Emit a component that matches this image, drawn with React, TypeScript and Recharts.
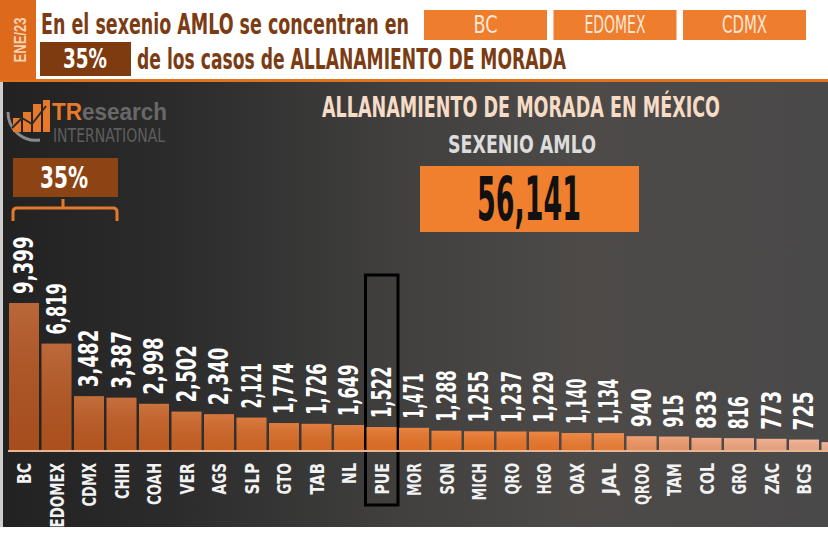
import { BarChart, Bar, XAxis, YAxis, Cell, LabelList, ReferenceArea } from "recharts";

// data (the last state is cut off at the right edge)
const states = [
  "BC", "EDOMEX", "CDMX", "CHIH", "COAH", "VER", "AGS", "SLP", "GTO", "TAB", "NL", "PUE", "MOR",
  "SON", "MICH", "QRO", "HGO", "OAX", "JAL", "QROO", "TAM", "COL", "GRO", "ZAC", "BCS", "NAY",
];
const cases = [
  9399, 6819, 3482, 3387, 2998, 2502, 2340, 2121, 1774, 1726, 1649, 1522, 1471,
  1288, 1255, 1237, 1229, 1140, 1134, 940, 915, 833, 816, 773, 725, 560,
];
const highlighted = "PUE";
const topStates = ["BC", "EDOMEX", "CDMX"];
const share = "35%";
const total = "56,141";
const period = "ENE/23";

const barColors = [
  "#b0521f", "#b45520", "#bb5921", "#bf5b22", "#c55f23", "#ca6224", "#cf6525", "#d46825", "#d96b25",
  "#dc6c25", "#df6e25", "#e27025", "#e67327", "#e87427", "#e97528", "#ea7629", "#eb772b", "#eb7b30",
  "#ec8138", "#ee9462", "#ef9a6c", "#efa077", "#f0a47e", "#f0a886", "#f1ac8c", "#f1b092",
];

const data = states.map((state, i) => ({ state, total: cases[i] }));
const lastIdx = states.length - 1;

const narrow = '"Liberation Sans Narrow", "DejaVu Sans Condensed", "Roboto Condensed", sans-serif';
const brown = "#7b3c14";
const orange = "#ee7d2e";

// rough width of a condensed display face, used to squeeze the fallback font
const digitLen = (s: string) =>
  s.split("").reduce((w, c) => w + (c === "1" ? 7 : c === "," ? 5.5 : 13), 0);
const letterLen = (s: string) =>
  s.split("").reduce((w, c) => w + (c === "I" ? 4.5 : c === "M" ? 12 : 10.5), 0);

const ValueLabel = (props: any) => {
  const { x, y, width, value, index } = props;
  if (value == null || index === lastIdx) return null; // off the picture
  const cx = x + width / 2;
  const cy = y - 9;
  const txt = Number(value).toLocaleString("en-US");
  return (
    <text
      x={cx}
      y={cy}
      transform={`rotate(-90, ${cx}, ${cy})`}
      textAnchor="start"
      dominantBaseline="central"
      fill="#ffffff"
      fontFamily={narrow}
      fontWeight="bold"
      fontSize={27}
      textLength={digitLen(txt)}
      lengthAdjust="spacingAndGlyphs"
    >
      {txt}
    </text>
  );
};

const StateTick = (props: any) => {
  const { x, y, payload } = props;
  if (payload.index === lastIdx) return null;
  const ty = y + 12;
  return (
    <text
      x={x}
      y={ty}
      transform={`rotate(-90, ${x}, ${ty})`}
      textAnchor="end"
      dominantBaseline="central"
      fill="#f2f2f2"
      fontFamily={narrow}
      fontWeight="bold"
      fontSize={20}
      textLength={letterLen(payload.value)}
      lengthAdjust="spacingAndGlyphs"
    >
      {payload.value}
    </text>
  );
};

const ShadedBar = (props: any) => {
  const { x, y, width, height, fill } = props;
  if (!height || height <= 0) return null;
  return (
    <g>
      <rect x={x} y={y} width={width} height={height} fill={fill} />
      <rect x={x} y={y} width={width} height={height} fill="url(#barShade)" />
    </g>
  );
};

const boxTextLen = [24, 61, 45];

export default function App() {
  return (
    <div style={{ position: "absolute", left: 0, top: 0, width: 828, height: 533, overflow: "hidden", background: "#ffffff" }}>
      {/* dark panel */}
      <div
        style={{
          position: "absolute",
          left: 0,
          top: 82,
          width: 828,
          height: 445,
          boxSizing: "border-box",
          borderLeft: "3px solid #cfcfcf",
          background: "linear-gradient(90deg, #222222 0%, #2b2b2b 20%, #41403f 48%, #4d4a48 70%, #4a4949 100%)",
        }}
      />
      <div style={{ position: "absolute", left: 0, top: 79, width: 828, height: 3, background: "#e0731f" }} />

      <svg width={828} height={533} style={{ position: "absolute", left: 0, top: 0 }}>
        <defs>
          <linearGradient id="barShade" x1="0" y1="0" x2="0" y2="1">
            <stop offset="0%" stopColor="#ffffff" stopOpacity={0.12} />
            <stop offset="100%" stopColor="#000000" stopOpacity={0.05} />
          </linearGradient>
        </defs>

        {/* header */}
        <rect x={0} y={0} width={36} height={80} fill="#dd6a1b" />
        <text x={20} y={40} transform="rotate(-90, 20, 40)" textAnchor="middle" dominantBaseline="central"
          fill="#f6d2b6" fontFamily="Liberation Sans, sans-serif" fontWeight="bold" fontSize={17}
          textLength={45} lengthAdjust="spacingAndGlyphs">{period}</text>
        <text x={41} y={34} fill={brown} fontFamily={narrow} fontWeight="bold" fontSize={29}
          textLength={368} lengthAdjust="spacingAndGlyphs">En el sexenio AMLO se concentran en</text>
        {topStates.map((s, i) => (
          <g key={s}>
            <rect x={424 + i * 129.5} y={10} width={123} height={30} fill={orange} />
            <text x={485.5 + i * 129.5} y={33} textAnchor="middle" fill="#fde6d4"
              fontFamily={narrow} fontSize={25} textLength={boxTextLen[i]} lengthAdjust="spacingAndGlyphs">{s}</text>
          </g>
        ))}
        <rect x={40} y={42} width={91} height={34} fill="#7e3b0f" />
        <text x={85} y={68} textAnchor="middle" fill="#ffffff" fontFamily={narrow} fontWeight="bold" fontSize={27}
          textLength={44} lengthAdjust="spacingAndGlyphs">{share}</text>
        <text x={137} y={69} fill={brown} fontFamily={narrow} fontWeight="bold" fontSize={29}
          textLength={429} lengthAdjust="spacingAndGlyphs">de los casos de ALLANAMIENTO DE MORADA</text>

        {/* logo */}
        <path d="M 8 112 A 28 28 0 0 0 40 140" fill="none" stroke="#8a8a8a" strokeWidth={3} />
        <rect x={13} y={118} width={8} height={14} fill="#e8782a" />
        <rect x={23} y={112} width={8} height={20} fill="#e8782a" />
        <rect x={33} y={104} width={8} height={28} fill="#e8782a" />
        <rect x={43} y={100} width={7} height={32} fill="#e8782a" />
        <polyline points="12,128 22,118 32,124 46,106" fill="none" stroke="#2a2a2a" strokeWidth={2} />
        <text x={52} y={120} fontFamily="Liberation Sans, sans-serif" fontWeight="bold" fontSize={24}
          textLength={115} lengthAdjust="spacingAndGlyphs">
          <tspan fill="#e8782a">TR</tspan><tspan fill="#686868">esearch</tspan>
        </text>
        <text x={53} y={142} fill="#5e5e5e" fontFamily={narrow} fontSize={19}
          textLength={112} lengthAdjust="spacingAndGlyphs">INTERNATIONAL</text>

        {/* share badge and bracket */}
        <rect x={13} y={158} width={105} height={39} fill="#8c4414" />
        <text x={64} y={188} textAnchor="middle" fill="#ffffff" fontFamily={narrow} fontWeight="bold" fontSize={30}
          textLength={48} lengthAdjust="spacingAndGlyphs">{share}</text>
        <path d="M 13 221 L 13 212 Q 13 208 17 208 L 113 208 Q 117 208 117 212 L 117 221 M 63 208 L 63 199"
          fill="none" stroke="#e27a2c" strokeWidth={3} />

        {/* titles */}
        <text x={521} y={117} textAnchor="middle" fill="#f6dcc6" fontFamily={narrow} fontWeight="bold" fontSize={28}
          textLength={398} lengthAdjust="spacingAndGlyphs">ALLANAMIENTO DE MORADA EN MÉXICO</text>
        <text x={522} y={153} textAnchor="middle" fill="#dcdcdc" fontFamily={narrow} fontWeight="bold" fontSize={25}
          textLength={148} lengthAdjust="spacingAndGlyphs">SEXENIO AMLO</text>
        <rect x={420} y={166} width={219} height={66} fill="#f07f2e" />
        <text x={529} y={220} textAnchor="middle" fill="#111111" fontFamily={narrow} fontWeight="bold" fontSize={60}
          textLength={104} lengthAdjust="spacingAndGlyphs">{total}</text>
      </svg>

      <div style={{ position: "absolute", left: 0, top: 0 }}>
        <BarChart width={900} height={533} data={data} margin={{ top: 293.5, right: 47, bottom: 0, left: 8 }}>
          <XAxis
            dataKey="state"
            interval={0}
            height={82}
            tickLine={false}
            tickSize={0}
            tickMargin={0}
            axisLine={{ stroke: "#e9b58f", strokeWidth: 2 }}
            tick={<StateTick />}
          />
          <YAxis hide domain={[0, 10000]} allowDataOverflow />
          <Bar dataKey="total" barSize={30} isAnimationActive={false} shape={<ShadedBar />}>
            {data.map((d, i) => (
              <Cell key={d.state} fill={barColors[i]} />
            ))}
            <LabelList dataKey="total" content={<ValueLabel />} />
          </Bar>
          <ReferenceArea
            x1={highlighted}
            x2={highlighted}
            y1={-3430}
            y2={11180}
            ifOverflow="visible"
            fill="none"
            stroke="#000000"
            strokeWidth={3}
          />
        </BarChart>
      </div>
    </div>
  );
}
